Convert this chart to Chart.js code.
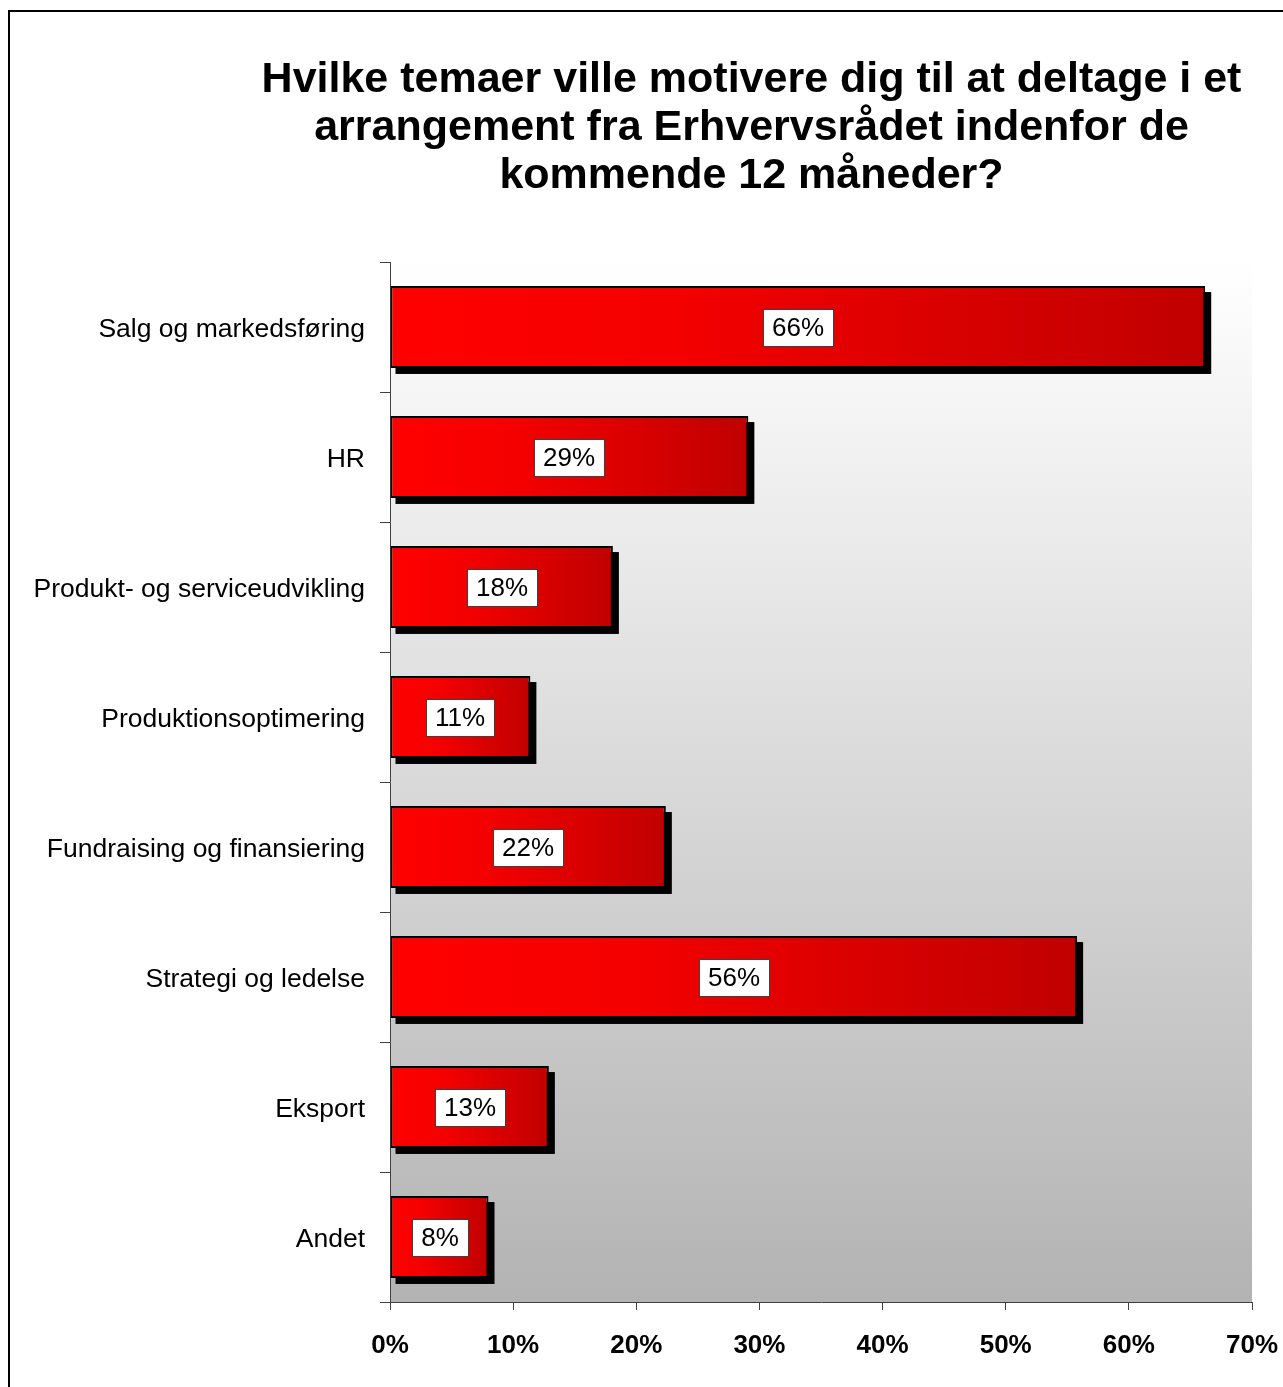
<!DOCTYPE html>
<html>
<head>
<meta charset="utf-8">
<title>Erhvervsrådet - temaer</title>
<script src="https://cdn.jsdelivr.net/npm/chart.js@4.4.1/dist/chart.umd.min.js"></script>
<style>
  html, body { margin: 0; padding: 0; background: #fff; overflow: hidden; }
  #wrap { width: 1283px; height: 1387px; position: relative; }
</style>
</head>
<body>
<div id="wrap"><canvas id="temaChart"></canvas></div>
<script>
// Data
const categories = [
  'Salg og markedsføring',
  'HR',
  'Produkt- og serviceudvikling',
  'Produktionsoptimering',
  'Fundraising og finansiering',
  'Strategi og ledelse',
  'Eksport',
  'Andet'
];
const shares = [66.2, 29.1, 18.1, 11.4, 22.4, 55.8, 12.9, 8.0];
const tickValues = [0, 10, 20, 30, 40, 50, 60, 70];
const titleLines = [
  'Hvilke temaer ville motivere dig til at deltage i et',
  'arrangement fra Erhvervsrådet indenfor de',
  'kommende 12 måneder?'
];

const AXIS_COLOR = '#404040';

// hvid baggrund + ramme omkring hele figuren
const frameBg = {
  id: 'frameBg',
  afterLayout(chart) {
    // titlen står centreret over højre del af figuren
    if (chart.titleBlock) chart.titleBlock.left = 251;
  },
  beforeDraw(chart) {
    const c = chart.ctx;
    c.save();
    c.fillStyle = '#ffffff';
    c.fillRect(0, 0, chart.width, chart.height);
    c.strokeStyle = '#000';
    c.lineWidth = 2;
    c.strokeRect(9, 11, chart.width + 20, chart.height + 20);
    // plotområde: hvid -> grå
    const a = chart.chartArea;
    const g = c.createLinearGradient(0, a.top, 0, a.bottom);
    g.addColorStop(0, '#ffffff');
    g.addColorStop(1, '#b3b3b3');
    c.fillStyle = g;
    c.fillRect(a.left, a.top, a.right - a.left, a.bottom - a.top);
    c.restore();
  }
};

// sort skygge under søjlerne (forskudt kopi af hver søjle)
const barShadow = {
  id: 'barShadow',
  beforeDatasetsDraw(chart) {
    const c = chart.ctx;
    const meta = chart.getDatasetMeta(0);
    c.save();
    c.fillStyle = '#000';
    meta.data.forEach(bar => {
      const left = Math.min(bar.x, bar.base);
      const w = Math.abs(bar.x - bar.base);
      c.fillRect(left + 5, bar.y - bar.height / 2 + 6, w + 1, bar.height);
    });
    c.restore();
  }
};

// hvide labels med procent midt i søjlen
const valueBoxes = {
  id: 'valueBoxes',
  afterDatasetsDraw(chart) {
    const c = chart.ctx;
    const meta = chart.getDatasetMeta(0);
    c.save();
    c.font = '26px "Liberation Sans", Arial, sans-serif';
    c.textAlign = 'center';
    c.textBaseline = 'middle';
    meta.data.forEach((bar, i) => {
      const txt = Math.round(shares[i]) + '%';
      const w = Math.round(c.measureText(txt).width + 18);
      const h = 37;
      const cx = Math.round((bar.x + bar.base) / 2);
      const cy = Math.round(bar.y);
      const bx = Math.round(cx - w / 2);
      const by = Math.round(cy - h / 2);
      c.fillStyle = '#ffffff';
      c.fillRect(bx, by, w, h);
      c.strokeStyle = '#404040';
      c.lineWidth = 1;
      c.strokeRect(bx + 0.5, by + 0.5, w, h);
      c.fillStyle = '#000';
      c.fillText(txt, cx, cy + 2);
    });
    c.restore();
  }
};

function barGradient(context) {
  const chart = context.chart;
  const xScale = chart.scales.x;
  if (!xScale || context.type !== 'data') return '#e00000';
  const x0 = xScale.getPixelForValue(0);
  const x1 = xScale.getPixelForValue(context.raw);
  if (!isFinite(x0) || !isFinite(x1) || x1 <= x0) return '#e00000';
  const g = chart.ctx.createLinearGradient(x0, 0, x1, 0);
  g.addColorStop(0, '#ff0000');
  g.addColorStop(0.35, '#f40000');
  g.addColorStop(1, '#c00000');
  return g;
}

document.addEventListener('DOMContentLoaded', function () {
  const ctx = document.getElementById('temaChart');
  new Chart(ctx, {
    type: 'bar',
    data: {
      labels: categories,
      datasets: [{
        data: shares,
        backgroundColor: barGradient,
        borderColor: '#000',
        borderWidth: 2,
        borderSkipped: false,
        categoryPercentage: 1,
        barPercentage: 0.63
      }]
    },
    options: {
      indexAxis: 'y',
      responsive: true,
      maintainAspectRatio: false,
      animation: false,
      layout: { padding: { left: 0, right: 31, top: 0, bottom: 0 } },
      plugins: {
        legend: { display: false },
        tooltip: { enabled: false },
        title: {
          display: true,
          text: titleLines,
          color: '#000',
          font: { family: '"Liberation Sans", Arial, sans-serif', size: 43, weight: 'bold', lineHeight: 48 / 43 },
          padding: { top: 56, bottom: 62 }
        }
      },
      scales: {
        x: {
          min: 0,
          max: 70,
          afterFit(scale) {
            scale.height = 85;
            scale.paddingLeft = 0;
            scale.paddingRight = 0;
          },
          afterBuildTicks(scale) { scale.ticks = tickValues.map(v => ({ value: v })); },
          grid: { drawOnChartArea: false, drawTicks: true, tickLength: 8, color: AXIS_COLOR, tickColor: AXIS_COLOR },
          border: { display: true, color: AXIS_COLOR, width: 1 },
          ticks: {
            color: '#000',
            padding: 20,
            font: { family: '"Liberation Sans", Arial, sans-serif', size: 26, weight: 'bold' },
            callback: v => v + '%'
          }
        },
        y: {
          afterFit(scale) {
            scale.width = 390;
            scale.paddingTop = 0;
            scale.paddingBottom = 0;
          },
          grid: { drawOnChartArea: false, drawTicks: true, tickLength: 10, offset: true, color: AXIS_COLOR, tickColor: AXIS_COLOR },
          border: { display: true, color: AXIS_COLOR, width: 1 },
          ticks: {
            color: '#000',
            padding: 15,
            labelOffset: 3,
            font: { family: '"Liberation Sans", Arial, sans-serif', size: 26.5 }
          }
        }
      }
    },
    plugins: [frameBg, barShadow, valueBoxes]
  });
});
</script>
</body>
</html>
